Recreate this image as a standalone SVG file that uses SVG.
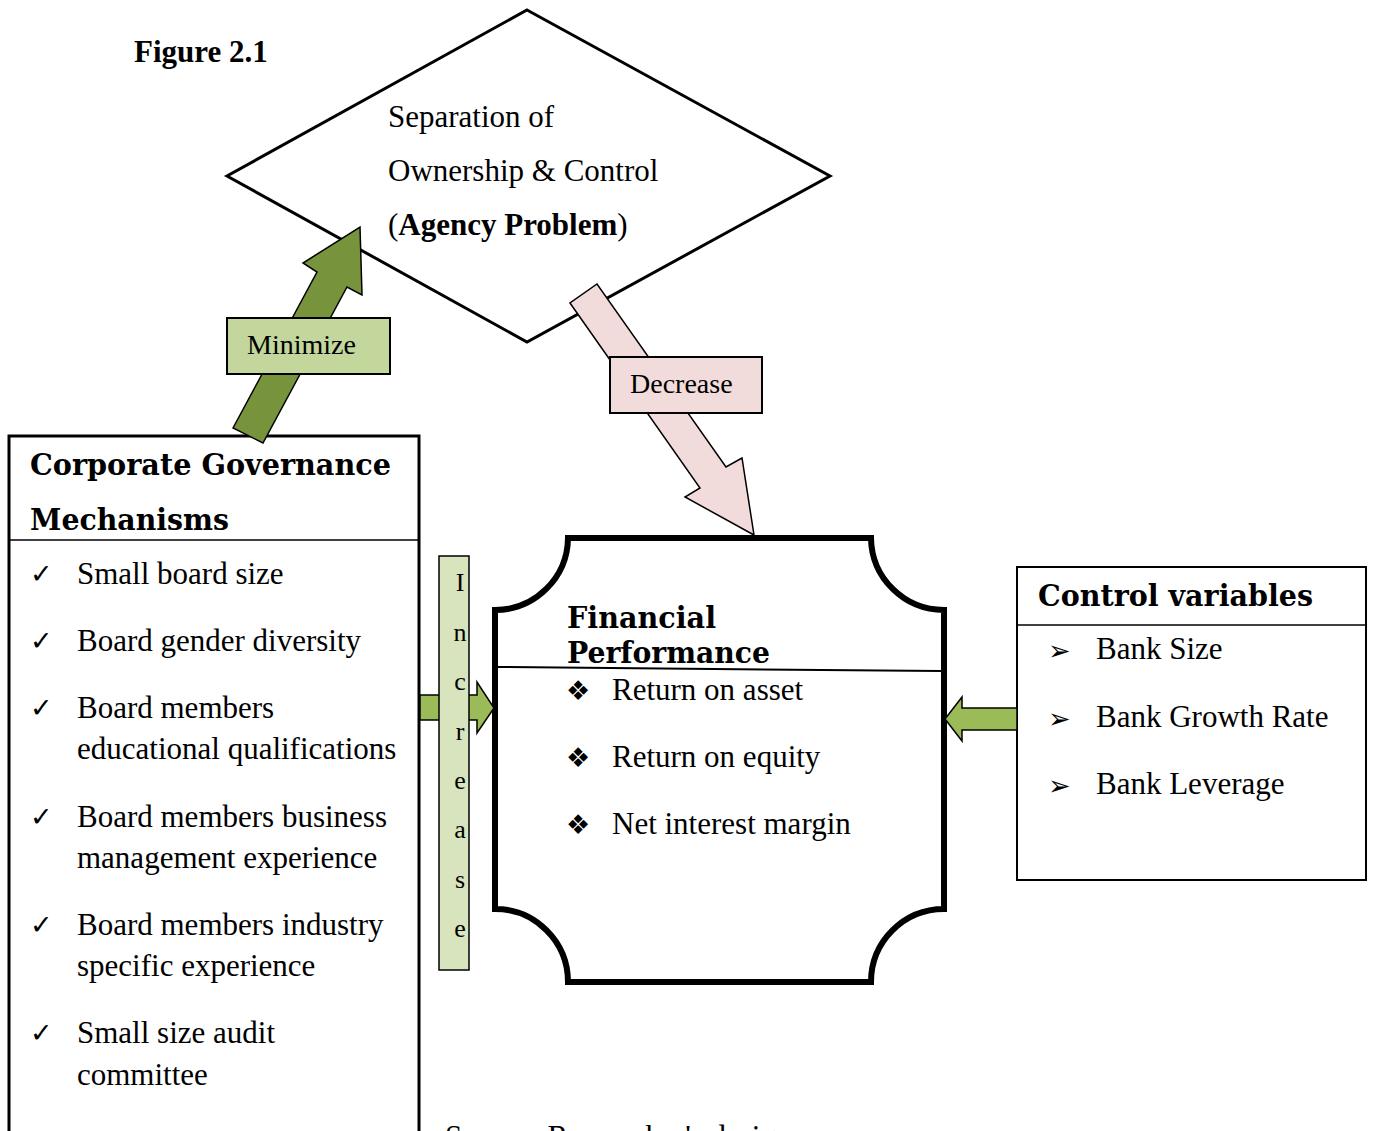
<svg xmlns="http://www.w3.org/2000/svg" width="1375" height="1131" viewBox="0 0 1375 1131">
<style>
.t{font-family:"Liberation Serif","Times New Roman",serif;font-size:31px;fill:#000}
.lbl{font-family:"Liberation Serif","Times New Roman",serif;font-size:28px;fill:#000}
.hd{font-family:"DejaVu Serif","Liberation Serif",serif;font-weight:bold;font-size:29px;fill:#000}
.sym{font-family:"DejaVu Sans",sans-serif;font-size:27px;fill:#000}
.inc{font-family:"Liberation Serif","Times New Roman",serif;font-size:26px;fill:#000;text-anchor:middle}
.garrow{fill:#9BBB59;stroke:#000;stroke-width:1.5;stroke-linejoin:miter}
</style>
<rect width="1375" height="1131" fill="#fff"/>
<text class="t" x="134" y="62" font-weight="bold">Figure 2.1</text>

<g id="agency">
<polygon points="527,10 830,176 527,342 227,176" fill="#fff" stroke="#000" stroke-width="3"/>
<text class="t" x="388" y="127">Separation of</text>
<text class="t" x="388" y="181">Ownership &amp; Control</text>
<text class="t" x="388" y="235">(<tspan font-weight="bold">Agency Problem</tspan>)</text>
</g>

<g id="cg">
<rect x="9" y="436" width="410" height="720" fill="#fff" stroke="#000" stroke-width="3"/>
<line x1="9" y1="540" x2="419" y2="540" stroke="#000" stroke-width="1.5"/>
<text class="hd" x="30" y="475" textLength="361" lengthAdjust="spacingAndGlyphs">Corporate Governance</text>
<text class="hd" x="30" y="530" textLength="199" lengthAdjust="spacingAndGlyphs">Mechanisms</text>
<g class="sym">
<text x="30" y="583">✓</text>
<text x="30" y="650">✓</text>
<text x="30" y="717">✓</text>
<text x="30" y="826">✓</text>
<text x="30" y="934">✓</text>
<text x="30" y="1042">✓</text>
</g>
<text class="t" x="77" y="584">Small board size</text>
<text class="t" x="77" y="651">Board gender diversity</text>
<text class="t" x="77" y="718">Board members</text>
<text class="t" x="77" y="759">educational qualifications</text>
<text class="t" x="77" y="827">Board members business</text>
<text class="t" x="77" y="868">management experience</text>
<text class="t" x="77" y="935">Board members industry</text>
<text class="t" x="77" y="976">specific experience</text>
<text class="t" x="77" y="1043">Small size audit</text>
<text class="t" x="77" y="1085">committee</text>
</g>

<g id="fp">
<path d="M568,538 L871,538 A73,73 0 0 0 944,610 L944,909 A73,73 0 0 0 871,982 L568,982 A73,73 0 0 0 495,909 L495,610 A73,73 0 0 0 568,538 Z" fill="#fff" stroke="#000" stroke-width="6"/>
<line x1="497" y1="667" x2="941" y2="671" stroke="#000" stroke-width="2"/>
<text class="hd" x="567" y="628" textLength="149" lengthAdjust="spacingAndGlyphs">Financial</text>
<text class="hd" x="567" y="663" textLength="203" lengthAdjust="spacingAndGlyphs">Performance</text>
<g class="sym">
<text x="566" y="700">❖</text>
<text x="566" y="767">❖</text>
<text x="566" y="834">❖</text>
</g>
<text class="t" x="612" y="700">Return on asset</text>
<text class="t" x="612" y="767">Return on equity</text>
<text class="t" x="612" y="834">Net interest margin</text>
</g>

<g id="control">
<rect x="1017" y="567" width="349" height="313" fill="#fff" stroke="#000" stroke-width="2"/>
<line x1="1017" y1="625" x2="1366" y2="625" stroke="#000" stroke-width="1.5"/>
<text class="hd" x="1038" y="606" textLength="275" lengthAdjust="spacingAndGlyphs">Control variables</text>
<g class="sym">
<text x="1048" y="660">➢</text>
<text x="1048" y="728">➢</text>
<text x="1048" y="795">➢</text>
</g>
<text class="t" x="1096" y="659">Bank Size</text>
<text class="t" x="1096" y="727">Bank Growth Rate</text>
<text class="t" x="1096" y="794">Bank Leverage</text>
</g>

<g id="connectors">
<g id="minimize">
<polygon points="233,428 317,272 303,263 360,227 362,295 347,287 263,443" fill="#77933C" stroke="#000" stroke-width="1.5"/>
<rect x="227" y="318" width="163" height="56" fill="#C3D69B" stroke="#000" stroke-width="2"/>
<text class="lbl" x="247" y="354">Minimize</text>
</g>
<g id="decrease">
<polygon points="570,303 700,488 685,497 754,535 742,458 726,467 597,284" fill="#F2DCDB" stroke="#000" stroke-width="1.5"/>
<rect x="610" y="357" width="152" height="56" fill="#F2DCDB" stroke="#000" stroke-width="2"/>
<text class="lbl" x="630" y="393">Decrease</text>
</g>
<g id="increase">
<polygon class="garrow" points="420,695 477,695 477,682 494,708 477,733 477,720 420,720"/>
<rect x="439" y="556" width="30" height="414" fill="#D7E4BD" stroke="#000" stroke-width="1.5"/>
<text class="inc" x="460" y="591">I</text>
<text class="inc" x="460" y="641">n</text>
<text class="inc" x="460" y="690">c</text>
<text class="inc" x="460" y="740">r</text>
<text class="inc" x="460" y="789">e</text>
<text class="inc" x="460" y="838">a</text>
<text class="inc" x="460" y="888">s</text>
<text class="inc" x="460" y="937">e</text>
</g>
<g id="control-arrow">
<polygon class="garrow" points="1017,708 962,708 962,697 945,719 962,741 962,730 1017,730"/>
</g>
</g>

<text class="t" x="445" y="1147">Source: Researcher's design</text>
</svg>
